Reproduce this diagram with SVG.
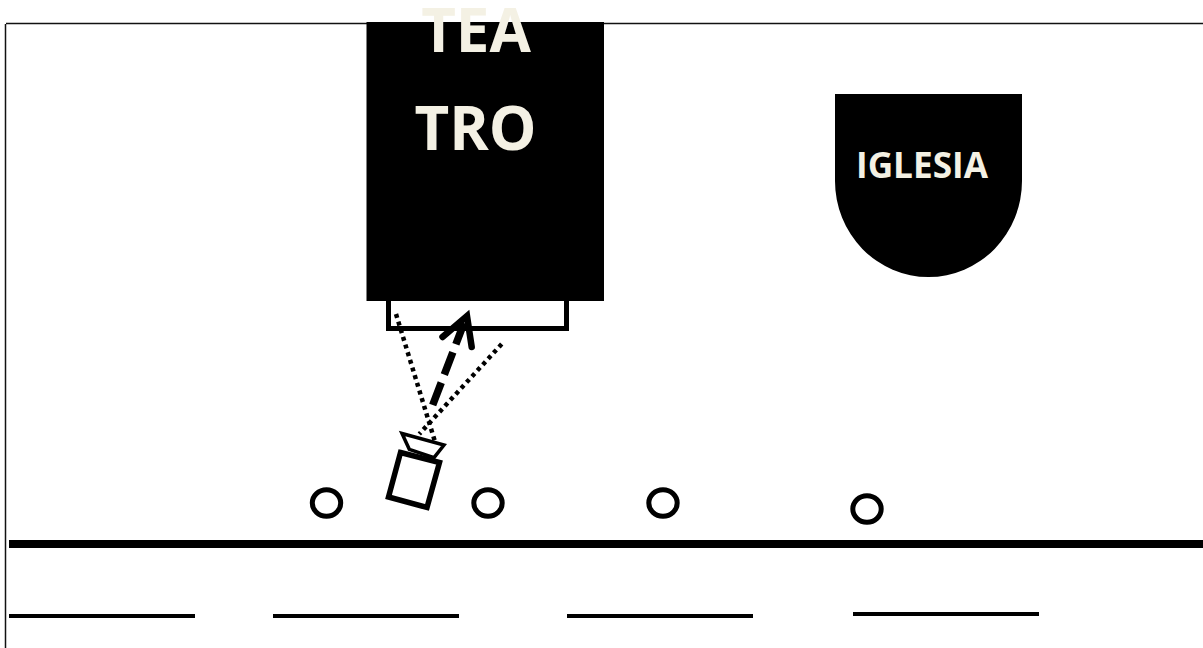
<svg xmlns="http://www.w3.org/2000/svg" width="1203" height="648" viewBox="0 0 1203 648">
<style>
.lbl{font-family:"Open Sans","Noto Sans","Liberation Sans",sans-serif;font-weight:700;fill:#f4f1e4;text-anchor:middle}
.ln{stroke:#000;fill:none}
.c{stroke:#000;stroke-width:5;fill:#fff}
</style>
<rect width="1203" height="648" fill="#fff"/>
<g id="frame"><path d="M5.500 648V24M6 23.500H1203" stroke="#111" stroke-width="1.500" fill="none"/></g>
<g id="teatro">
<rect x="366.500" y="22" width="237.500" height="279" fill="#000"/>
<text class="lbl" x="476" y="52" font-size="60">TEA</text>
<text class="lbl" x="475.500" y="150" font-size="60">TRO</text>
</g>
<g id="escenario"><path class="ln" stroke-width="5" d="M388.500 300V328.500H566.500V300"/></g>
<g id="iglesia">
<path d="M835 94H1022V181A93.500 96 0 0 1 835 181Z" fill="#000"/>
<text class="lbl" x="922" y="178" font-size="36" textLength="132" lengthAdjust="spacingAndGlyphs">IGLESIA</text>
</g>
<g id="camara">
<polygon class="ln" stroke-width="5.500" points="400.500,452.500 439.500,462.500 427,507.500 388.500,497"/>
<polygon class="ln" stroke-width="3.500" points="402,433.500 444,445 434,457.700 409.300,449.300"/>
</g>
<g id="personas">
<ellipse class="c" cx="326.500" cy="503" rx="14.200" ry="13.200"/>
<ellipse class="c" cx="488" cy="503" rx="14.200" ry="13.200"/>
<ellipse class="c" cx="663" cy="503" rx="14.200" ry="13.200"/>
<ellipse class="c" cx="867" cy="509" rx="14.200" ry="13.200"/>
</g>
<g id="calle">
<rect x="9" y="540" width="1194" height="8" fill="#000"/>
<rect x="9" y="614" width="186" height="4" fill="#000"/>
<rect x="273" y="614" width="186" height="4" fill="#000"/>
<rect x="567" y="614" width="186" height="4" fill="#000"/>
<rect x="853" y="612" width="186" height="4" fill="#000"/>
</g>
<g id="conectores">
<line class="ln" stroke-width="4.500" stroke-dasharray="4 4" x1="396" y1="314" x2="435" y2="441.700"/>
<line class="ln" stroke-width="4.500" stroke-dasharray="4 4" x1="501.700" y1="344" x2="419.300" y2="434"/>
<line class="ln" stroke-width="7.500" stroke-dasharray="24 8.500" x1="432.700" y1="405" x2="464" y2="323"/>
<polyline class="ln" stroke-width="6.500" stroke-linecap="round" points="442.500,337 467,316 471.700,347"/>
</g>
</svg>
